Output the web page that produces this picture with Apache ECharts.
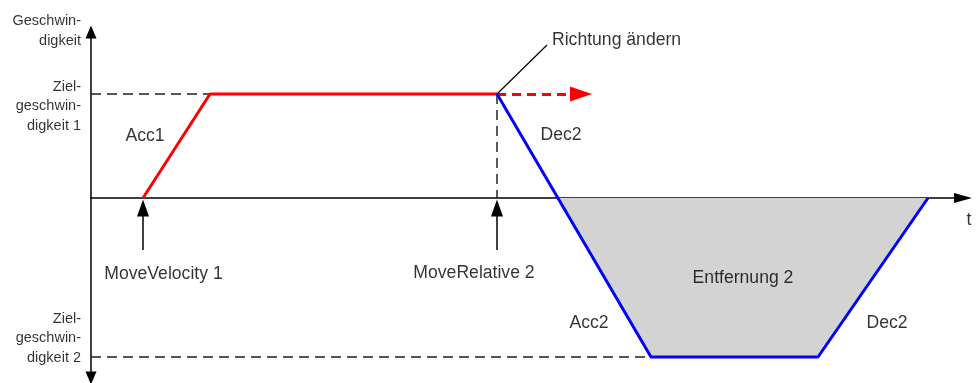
<!DOCTYPE html>
<html><head><meta charset="utf-8">
<script src="https://cdn.jsdelivr.net/npm/echarts@6/dist/echarts.min.js"></script>
<style>html,body{margin:0;padding:0;background:#fff}#c{width:978px;height:383px}</style>
</head><body><div id="c"></div>
<script>
// time (t) and velocity (v) in arbitrary units
const tRed = [5.2, 11.9, 40.6];
const vRed = [0, 10.4, 10.4];
const tRedArrow = [40.6, 49.0];
const tBlue = [40.6, 56.0, 72.7, 83.7];
const vBlue = [10.4, -15.9, -15.9, 0];
const tArea = [46.7, 56.0, 72.7, 83.7];
const vArea = [0, -15.9, -15.9, 0];
const vTarget = [10.4, -15.9];
const tCommand = [5.2, 40.6];
const vCommandArrow = [-5.2, -1.0];
const leaderT = [40.6, 45.6];
const leaderV = [10.4, 15.3];
const annoText = ['Acc1', 'Dec2', 'MoveVelocity 1', 'MoveRelative 2', 'Entfernung 2', 'Acc2', 'Dec2', 't'];
const annoT = [5.4, 47.0, 7.25, 38.3, 65.2, 49.8, 79.6, 87.8];
const annoV = [6.2, 6.3, -7.6, -7.5, -8.0, -12.5, -12.5, -2.2];
const noteText = 'Richtung ändern';
const noteT = 46.1, noteV = 15.8;
const yText = ['Geschwin-\ndigkeit', 'Ziel-\ngeschwin-\ndigkeit 1', 'Ziel-\ngeschwin-\ndigkeit 2'];
const yTextT = -1.0;
const yTextV = [16.7, 9.2, -14.0];

const FONT = "'Liberation Sans', Arial, sans-serif";
const zip = (a, b) => a.map((x, i) => [x, b[i]]);
const chart = echarts.init(document.getElementById('c'), null, {renderer: 'canvas'});
const dashedBlack = {color: '#222', width: 1.5, type: [10, 6]};

chart.setOption({
  animation: false,
  grid: {left: 91, right: 17, top: 32, bottom: 5},
  xAxis: {
    type: 'value', min: 0, max: 87,
    axisLine: {onZero: true, lineStyle: {color: '#000', width: 1.5}, symbol: ['none', 'triangle'], symbolSize: [10, 18], symbolOffset: [0, 2]},
    axisTick: {show: false}, axisLabel: {show: false}, splitLine: {show: false}
  },
  yAxis: {
    type: 'value', min: -18.0, max: 16.6,
    axisLine: {show: true, lineStyle: {color: '#000', width: 1.5}, symbol: ['triangle', 'triangle'], symbolSize: [11, 13]},
    axisTick: {show: false}, axisLabel: {show: false}, splitLine: {show: false}
  },
  series: [
    {type: 'line', data: zip(tArea, vArea), symbol: 'none', lineStyle: {width: 0}, areaStyle: {color: '#d3d3d3', opacity: 1}, z: 1, silent: true},
    {type: 'line', data: [[0, vTarget[0]], [tRed[2], vTarget[0]]], symbol: 'none', lineStyle: dashedBlack, z: 2, silent: true},
    {type: 'line', data: [[0, vTarget[1]], [tBlue[1], vTarget[1]]], symbol: 'none', lineStyle: dashedBlack, z: 2, silent: true},
    {type: 'line', data: [[tRed[2], vTarget[0]], [tRed[2], 0]], symbol: 'none', lineStyle: dashedBlack, z: 2, silent: true},
    {type: 'line', data: zip(tRed, vRed), symbol: 'none', lineStyle: {color: '#ff0000', width: 3}, z: 4, silent: true,
      markLine: {silent: true, animation: false, symbol: ['none', 'triangle'], symbolSize: [15, 22], label: {show: false},
        lineStyle: {color: '#ff0000', width: 3, type: [9, 6]},
        data: [[{coord: [tRedArrow[0], vRed[2]]}, {coord: [tRedArrow[1], vRed[2]]}]]}},
    {type: 'line', data: zip(tBlue, vBlue), symbol: 'none', lineStyle: {color: '#0000ff', width: 3}, z: 5, silent: true,
      markLine: {silent: true, animation: false, symbol: ['none', 'none'], label: {show: false},
        lineStyle: {color: '#000', width: 1.2, type: 'solid'},
        data: [[{coord: [leaderT[0], leaderV[0]]}, {coord: [leaderT[1], leaderV[1]]}]]}},
    {type: 'line', data: [], symbol: 'none', silent: true,
      markLine: {silent: true, animation: false, symbol: ['none', 'triangle'], symbolSize: [12, 17], label: {show: false},
        lineStyle: {color: '#000', width: 1.5, type: 'solid'},
        data: tCommand.map(t => [{coord: [t, vCommandArrow[0]]}, {coord: [t, vCommandArrow[1]]}])}},
    {type: 'scatter', clip: false, symbolSize: 0, silent: true, z: 10,
      label: {show: true, position: 'inside', color: '#000', textBorderWidth: 0, fontFamily: FONT, fontSize: 17.6, formatter: p => p.data.name},
      data: annoText.map((s, i) => ({name: s, value: [annoT[i], annoV[i]]}))
        .concat([{name: noteText, value: [noteT, noteV], label: {position: 'right', distance: 0}}])
        .concat(yText.map((s, i) => ({name: s, value: [yTextT, yTextV[i]],
          label: {position: 'left', distance: 0, align: 'right', fontSize: 14.5, lineHeight: 19.5}})))}
  ]
});
</script></body></html>
